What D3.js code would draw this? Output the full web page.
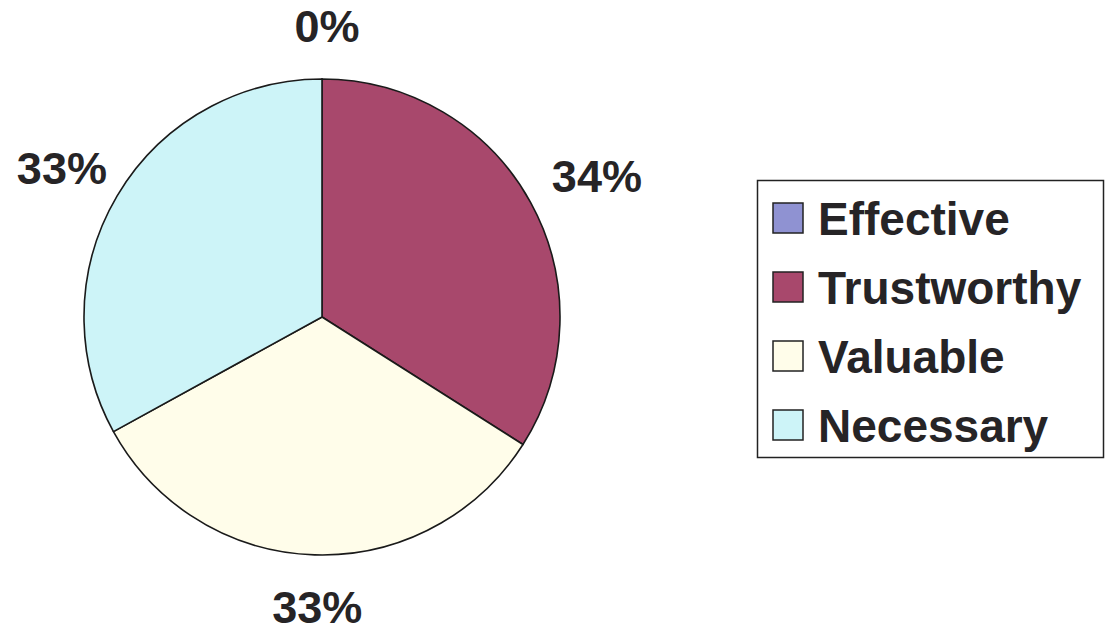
<!DOCTYPE html>
<html><head><meta charset="utf-8">
<script src="https://cdn.jsdelivr.net/npm/d3@7"></script>
<style>html,body{margin:0;padding:0;background:#fff;}svg{display:block;}</style>
</head><body>
<svg id="chart" width="1107" height="633"></svg>
<script>
const categories = ["Effective", "Trustworthy", "Valuable", "Necessary"];
const values = [0, 34, 33, 33];
const labels = ["0%", "34%", "33%", "33%"];
const colors = ["#8f92d2", "#a8486c", "#fffdea", "#cdf4f8"];

const svg = d3.select("#chart");
const cx = 322, cy = 317, r = 238;
const font = "'Liberation Sans', Arial, sans-serif";
const textColor = "#262426";

const pie = d3.pie().sort(null).value(d => d)(values);
const arc = d3.arc().innerRadius(0).outerRadius(r);
const color = d3.scaleOrdinal().domain(categories).range(colors);

const g = svg.append("g").attr("transform", `translate(${cx},${cy})`);
g.selectAll("path").data(pie).join("path")
  .attr("d", arc)
  .attr("fill", (d, i) => color(categories[i]))
  .attr("stroke", "#1a1a1a")
  .attr("stroke-width", 1.6)
  .attr("stroke-linejoin", "round");

const R = 291, extra = 17, shift = 5;
g.selectAll("text.lbl").data(pie).join("text")
  .attr("class", "lbl")
  .attr("x", d => { const a = (d.startAngle + d.endAngle) / 2; return Math.sin(a) * (R + extra) + shift; })
  .attr("y", d => { const a = (d.startAngle + d.endAngle) / 2; return -Math.cos(a) * R; })
  .attr("text-anchor", "middle")
  .attr("dominant-baseline", "central")
  .attr("font-family", font).attr("font-weight", "bold").attr("font-size", 45)
  .attr("fill", textColor)
  .text((d, i) => labels[i]);

// Legend
const lg = svg.append("g");
lg.append("rect").attr("x", 757.5).attr("y", 180.5).attr("width", 346).attr("height", 277)
  .attr("fill", "#fff").attr("stroke", "#222").attr("stroke-width", 1.5);
const y = d3.scalePoint().domain(categories).range([218, 425]);
const items = lg.selectAll("g.item").data(categories).join("g").attr("class", "item")
  .attr("transform", d => `translate(0,${y(d)})`);
items.append("rect").attr("x", 773).attr("y", -15).attr("width", 30).attr("height", 30)
  .attr("fill", d => color(d)).attr("stroke", "#222").attr("stroke-width", 1.5);
items.append("text").attr("x", 818).attr("y", 17)
  .attr("font-family", font).attr("font-weight", "bold").attr("font-size", 46)
  .attr("fill", textColor).text(d => d);
</script>
</body></html>
